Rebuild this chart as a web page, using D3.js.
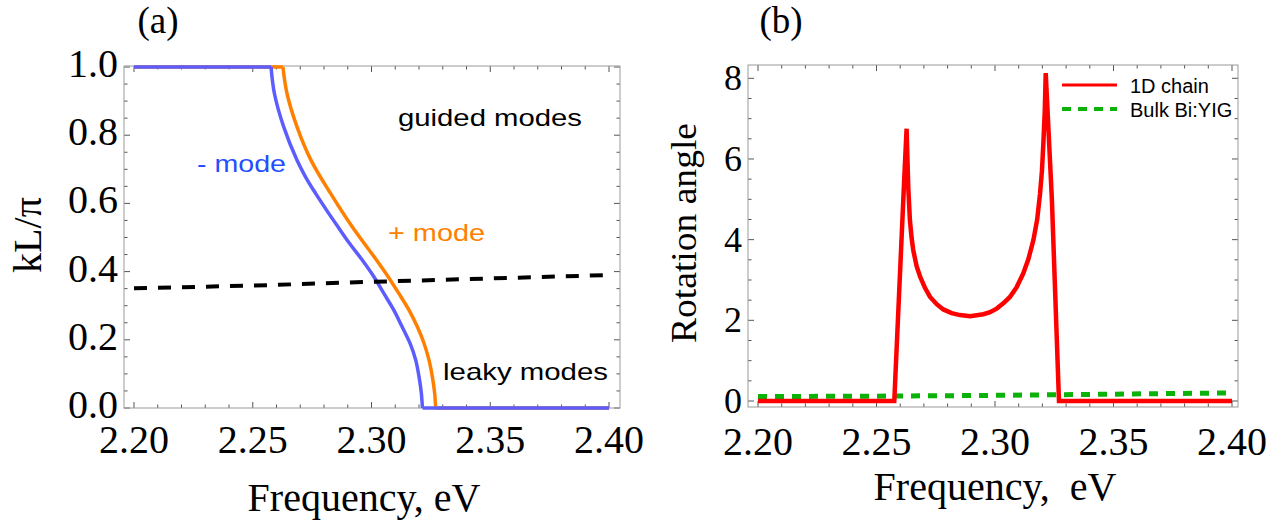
<!DOCTYPE html>
<html>
<head>
<meta charset="utf-8">
<script src="https://cdn.jsdelivr.net/npm/d3@7"></script>
<style>
body { margin: 0; background: #fff; }
svg { display: block; }
</style>
</head>
<body>
<div id="chart"></div>
<script>

/* -----------------------
data
------------------------- */

// (a) dispersion, kL/pi vs frequency
var freqMinus = [2.200, 2.2577, 2.2591, 2.2630, 2.2686, 2.2722, 2.2764, 2.2810, 2.2858, 2.2907, 2.2961, 2.3010, 2.3052, 2.3094, 2.3129, 2.3162, 2.3186, 2.3200, 2.3210, 2.3214, 2.3215, 2.400];
var kMinus    = [1.0,   1.0,    0.923,  0.825,  0.727,  0.678,  0.630,  0.581,  0.532,  0.483,  0.434,  0.385,  0.336,  0.287,  0.238,  0.190,  0.141,  0.092,  0.043,  0.006,  0.0,    0.0];

var freqPlus = [2.200, 2.2627, 2.2644, 2.2686, 2.2745, 2.2827, 2.2918, 2.3021, 2.3070, 2.3115, 2.3158, 2.3193, 2.3221, 2.3242, 2.3256, 2.3266, 2.3270, 2.400];
var kPlus    = [1.0,   1.0,    0.923,  0.825,  0.727,  0.630,  0.532,  0.434,  0.385,  0.336,  0.287,  0.238,  0.190,  0.141,  0.092,  0.043,  0.0,    0.0];

var freqLight = [2.20, 2.25, 2.30, 2.35, 2.40];
var kLight    = [0.351, 0.359, 0.370, 0.380, 0.390];

// (b) rotation angle
var freqChain = [2.200, 2.2575, 2.2618, 2.2627, 2.2634, 2.2641, 2.2648, 2.2655, 2.2669, 2.2684, 2.2705, 2.2726, 2.2754, 2.2782, 2.2817, 2.2852, 2.2895, 2.2951, 2.2979, 2.3007, 2.3035, 2.3063, 2.3091, 2.3119, 2.3141, 2.3162, 2.3178, 2.3190, 2.3198, 2.3204, 2.3210, 2.3214, 2.3240, 2.3270, 2.400];
var rotChain  = [0.0,   0.0,    5.63,   6.75,   5.30,   4.48,   4.05,   3.74,   3.35,   3.08,   2.80,   2.58,   2.40,   2.27,   2.18,   2.13,   2.10,   2.15,   2.20,   2.29,   2.42,   2.58,   2.82,   3.16,   3.52,   3.99,   4.50,   5.14,   5.70,   6.38,   7.20,   8.13,   5.00,   0.0,    0.0];

var freqBulk = [2.20, 2.25, 2.30, 2.35, 2.40];
var rotBulk  = [0.11, 0.12, 0.14, 0.17, 0.20];

// ticks and labels
var xTickLabels   = ['2.20', '2.25', '2.30', '2.35', '2.40'];
var kTickLabels   = ['0.0', '0.2', '0.4', '0.6', '0.8', '1.0'];
var rotTickLabels = ['0', '2', '4', '6', '8'];
var legendLabels  = ['1D chain', 'Bulk Bi:YIG'];

/* -----------------------
main variables
------------------------- */

var width = 1283,
    height = 527;

var serif = '"Liberation Serif", "Times New Roman", serif',
    sans = '"Liberation Sans", Arial, sans-serif';

var c_minus = '#5c5cff',
    c_minus_txt = '#1f4fff',
    c_plus = '#ff8000',
    c_chain = '#ff0000',
    c_bulk = '#0ab20a',
    c_frame = '#9a9a9a',
    c_tick = '#555';

var svg = d3.select('#chart')
    .append('svg')
    .attr('width', width)
    .attr('height', height);

function zip(xs, ys) {
    return xs.map(function (d, i) { return [d, ys[i]]; });
}

// frame with Mathematica-like ticks on all four sides
function drawFrame(g, x, y, box, xMinor, yMinor, xMajor, yMajor) {
    var majLen = 6, minLen = 3.5;
    var ticks = g.append('g').attr('stroke', c_tick).attr('stroke-width', 1);

    xMinor.forEach(function (v) {
        var isMaj = xMajor.some(function (m) { return Math.abs(m - v) < 1e-6; });
        var len = isMaj ? majLen : minLen;
        ticks.append('line').attr('x1', x(v)).attr('x2', x(v)).attr('y1', box.y1).attr('y2', box.y1 - len);
        ticks.append('line').attr('x1', x(v)).attr('x2', x(v)).attr('y1', box.y0).attr('y2', box.y0 + len);
    });
    yMinor.forEach(function (v) {
        var isMaj = yMajor.some(function (m) { return Math.abs(m - v) < 1e-6; });
        var len = isMaj ? majLen : minLen;
        ticks.append('line').attr('y1', y(v)).attr('y2', y(v)).attr('x1', box.x0).attr('x2', box.x0 + len);
        ticks.append('line').attr('y1', y(v)).attr('y2', y(v)).attr('x1', box.x1).attr('x2', box.x1 - len);
    });

    g.append('rect')
        .attr('x', box.x0).attr('y', box.y0)
        .attr('width', box.x1 - box.x0).attr('height', box.y1 - box.y0)
        .attr('fill', 'none')
        .attr('stroke', c_frame)
        .attr('stroke-width', 1);
}

function modeCurve(g, x, y, pts, color) {
    var lin = d3.line().x(function (d) { return x(d[0]); }).y(function (d) { return y(d[1]); });
    var smooth = d3.line().x(function (d) { return x(d[0]); }).y(function (d) { return y(d[1]); })
        .curve(d3.curveCatmullRom.alpha(0.5));
    var n = pts.length;
    [lin(pts.slice(0, 2)), smooth(pts.slice(1, n - 1)), lin(pts.slice(n - 2))].forEach(function (p) {
        g.append('path')
            .attr('d', p)
            .attr('fill', 'none')
            .attr('stroke', color)
            .attr('stroke-width', 3.5)
            .attr('stroke-linecap', 'butt')
            .attr('stroke-linejoin', 'round');
    });
}

/* -----------------------
panel (a)
------------------------- */

var xa = d3.scaleLinear().domain([2.2, 2.4]).range([134, 609]);
var ya = d3.scaleLinear().domain([0, 1]).range([408, 67]);
var boxA = {x0: 124, x1: 620, y0: 66, y1: 408};

var pa = svg.append('g').attr('id', 'panel_a');

drawFrame(pa, xa, ya, boxA,
    d3.range(0, 21).map(function (i) { return 2.2 + i * 0.01; }),
    d3.range(0, 21).map(function (i) { return i * 0.05; }),
    xTickLabels.map(Number),
    kTickLabels.map(Number));

modeCurve(pa, xa, ya, zip(freqPlus, kPlus), c_plus);
modeCurve(pa, xa, ya, zip(freqMinus, kMinus), c_minus);

pa.append('path')
    .attr('d', d3.line().x(function (d) { return xa(d[0]); }).y(function (d) { return ya(d[1]); })(zip(freqLight, kLight)))
    .attr('fill', 'none')
    .attr('stroke', '#000')
    .attr('stroke-width', 4)
    .attr('stroke-dasharray', '13,11');

// tick labels
pa.selectAll('.xl').data(xTickLabels).enter().append('text')
    .attr('x', function (d) { return xa(+d); })
    .attr('y', 453)
    .attr('text-anchor', 'middle')
    .attr('font-family', serif).attr('font-size', 40)
    .text(function (d) { return d; });

pa.selectAll('.yl').data(kTickLabels).enter().append('text')
    .attr('x', 118)
    .attr('y', function (d) { return ya(+d) + 10; })
    .attr('text-anchor', 'end')
    .attr('font-family', serif).attr('font-size', 40)
    .text(function (d) { return d; });

// titles
pa.append('text').attr('x', 158).attr('y', 33).attr('text-anchor', 'middle')
    .attr('font-family', serif).attr('font-size', 37).text('(a)');
pa.append('text').attr('x', 364).attr('y', 511).attr('text-anchor', 'middle')
    .attr('font-family', serif).attr('font-size', 40).text('Frequency, eV');
pa.append('text').attr('transform', 'translate(41,235) rotate(-90)').attr('text-anchor', 'middle')
    .attr('font-family', serif).attr('font-size', 40).text('kL/\u03c0');

// annotations
pa.append('text').attr('x', 398).attr('y', 126).attr('font-family', sans).attr('font-size', 24)
    .attr('textLength', 184).attr('lengthAdjust', 'spacingAndGlyphs').text('guided modes');
pa.append('text').attr('x', 197).attr('y', 172).attr('font-family', sans).attr('font-size', 24)
    .attr('fill', c_minus_txt).attr('textLength', 89).attr('lengthAdjust', 'spacingAndGlyphs').text('- mode');
pa.append('text').attr('x', 388).attr('y', 241).attr('font-family', sans).attr('font-size', 24)
    .attr('fill', c_plus).attr('textLength', 97).attr('lengthAdjust', 'spacingAndGlyphs').text('+ mode');
pa.append('text').attr('x', 443).attr('y', 380).attr('font-family', sans).attr('font-size', 24)
    .attr('textLength', 165).attr('lengthAdjust', 'spacingAndGlyphs').text('leaky modes');

/* -----------------------
panel (b)
------------------------- */

var xb = d3.scaleLinear().domain([2.2, 2.4]).range([758, 1232]);
var yb = d3.scaleLinear().domain([0, 8]).range([401, 78.3]);
var boxB = {x0: 748, x1: 1238, y0: 65, y1: 407};

var pb = svg.append('g').attr('id', 'panel_b');

drawFrame(pb, xb, yb, boxB,
    d3.range(0, 21).map(function (i) { return 2.2 + i * 0.01; }),
    d3.range(0, 17).map(function (i) { return i * 0.5; }),
    xTickLabels.map(Number),
    rotTickLabels.map(Number));

var lineB = d3.line().x(function (d) { return xb(d[0]); }).y(function (d) { return yb(d[1]); });

pb.append('path')
    .attr('d', lineB(zip(freqBulk, rotBulk)))
    .attr('fill', 'none')
    .attr('stroke', c_bulk)
    .attr('stroke-width', 5)
    .attr('stroke-dasharray', '9,8');

pb.append('path')
    .attr('d', lineB(zip(freqChain, rotChain)))
    .attr('fill', 'none')
    .attr('stroke', c_chain)
    .attr('stroke-width', 4.5)
    .attr('stroke-linejoin', 'miter')
    .attr('stroke-miterlimit', 3);

pb.selectAll('.xl').data(xTickLabels).enter().append('text')
    .attr('x', function (d) { return xb(+d); })
    .attr('y', 455)
    .attr('text-anchor', 'middle')
    .attr('font-family', serif).attr('font-size', 40)
    .text(function (d) { return d; });

pb.selectAll('.yl').data(rotTickLabels).enter().append('text')
    .attr('x', 742)
    .attr('y', function (d) { return yb(+d) + 12; })
    .attr('text-anchor', 'end')
    .attr('font-family', serif).attr('font-size', 36)
    .text(function (d) { return d; });

pb.append('text').attr('x', 781).attr('y', 33).attr('text-anchor', 'middle')
    .attr('font-family', serif).attr('font-size', 37).text('(b)');
pb.append('text').attr('x', 995).attr('y', 500).attr('text-anchor', 'middle')
    .attr('font-family', serif).attr('font-size', 40)
    .style('white-space', 'pre').text('Frequency,  eV');
pb.append('text').attr('transform', 'translate(696,233) rotate(-90)').attr('text-anchor', 'middle')
    .attr('font-family', serif).attr('font-size', 36)
    .attr('textLength', 220).attr('lengthAdjust', 'spacingAndGlyphs').text('Rotation angle');

// legend
var legend = pb.append('g').attr('class', 'legend');
var legStyles = [
    {color: c_chain, dash: null, w: 3},
    {color: c_bulk, dash: '9,7', w: 4}
];
legendLabels.forEach(function (lab, i) {
    var ly = 85 + i * 24;
    legend.append('line')
        .attr('x1', 1062).attr('x2', 1117).attr('y1', ly).attr('y2', ly)
        .attr('stroke', legStyles[i].color)
        .attr('stroke-width', legStyles[i].w)
        .attr('stroke-dasharray', legStyles[i].dash);
    legend.append('text')
        .attr('x', 1130).attr('y', ly + 7.5)
        .attr('font-family', sans).attr('font-size', 20)
        .text(lab);
});

</script>
</body>
</html>
